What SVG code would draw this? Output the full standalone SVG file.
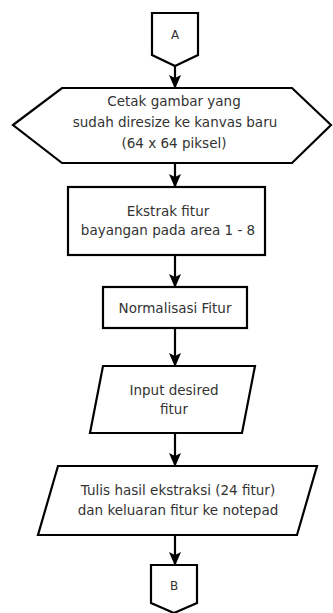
<svg xmlns="http://www.w3.org/2000/svg" width="333" height="613" viewBox="0 0 333 613">
  <style>
    .shape { fill: #ffffff; stroke: #000000; stroke-width: 2.2; stroke-linejoin: miter; }
    .label { font-family: "DejaVu Sans", Verdana, sans-serif; font-size: 13.5px; fill: #333333; text-anchor: middle; }
    .small { font-size: 12px; }
    .edge { stroke: #000000; stroke-width: 2.2; fill: none; marker-end: url(#arrow); }
  </style>
  <defs>
    <marker id="arrow" markerWidth="14" markerHeight="14" viewBox="0 0 14 14" refX="13" refY="7" orient="auto" markerUnits="userSpaceOnUse">
      <path d="M0,1 L14,7 L0,13 L3,7 Z" fill="#000000"/>
    </marker>
  </defs>
  <rect width="333" height="613" fill="#ffffff"/>

  <!-- connectors -->
  <g id="connectors">
    <line class="edge" x1="175" y1="66" x2="175" y2="88"/>
    <line class="edge" x1="175" y1="163" x2="175" y2="187"/>
    <line class="edge" x1="175" y1="255" x2="175" y2="287"/>
    <line class="edge" x1="175" y1="328" x2="175" y2="366"/>
    <line class="edge" x1="175" y1="433" x2="175" y2="466"/>
    <line class="edge" x1="175" y1="535" x2="175" y2="565"/>
  </g>

  <!-- off-page connector A -->
  <g id="node-a">
    <path class="shape" d="M152,13 L198,13 L198,55 L175,66 L152,55 Z"/>
    <text class="label small" x="175" y="39">A</text>
  </g>

  <!-- display: print resized image to new canvas -->
  <g id="node-cetak">
    <path class="shape" d="M13,125 L62,88 L292,88 L331,125 L292,163 L62,163 Z"/>
    <text class="label" x="174" y="106">Cetak gambar yang</text>
    <text class="label" x="175" y="127">sudah diresize ke kanvas baru</text>
    <text class="label" x="174" y="148">(64 x 64 piksel)</text>
  </g>

  <!-- process: extract shadow features -->
  <g id="node-ekstrak">
    <rect class="shape" x="68" y="187" width="197" height="68"/>
    <text class="label" x="168" y="216">Ekstrak fitur</text>
    <text class="label" x="168" y="235">bayangan pada area 1 - 8</text>
  </g>

  <!-- process: normalise features -->
  <g id="node-normalisasi">
    <rect class="shape" x="103" y="287" width="144" height="41"/>
    <text class="label" x="175" y="313">Normalisasi Fitur</text>
  </g>

  <!-- input: desired features -->
  <g id="node-input">
    <path class="shape" d="M103,366 L255,366 L242,433 L90,433 Z"/>
    <text class="label" x="174" y="395">Input desired</text>
    <text class="label" x="174" y="414">fitur</text>
  </g>

  <!-- output: write results to notepad -->
  <g id="node-tulis">
    <path class="shape" d="M58,466 L317,466 L297,535 L38,535 Z"/>
    <text class="label" x="178" y="495">Tulis hasil ekstraksi (24 fitur)</text>
    <text class="label" x="178" y="515">dan keluaran fitur ke notepad</text>
  </g>

  <!-- off-page connector B -->
  <g id="node-b">
    <path class="shape" d="M151,565 L197,565 L197,603 L174,613 L151,603 Z"/>
    <text class="label small" x="174" y="590">B</text>
  </g>
</svg>
